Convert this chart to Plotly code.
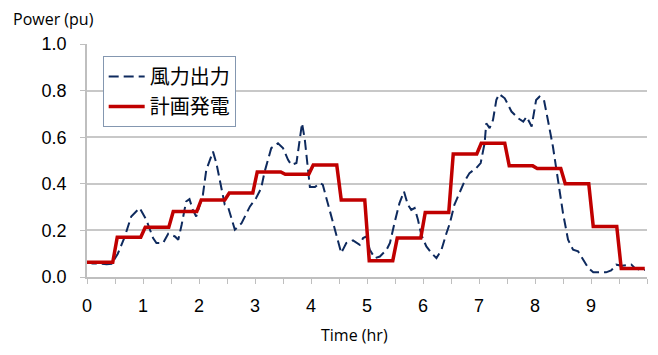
import plotly.graph_objects as go

# Wind power output (dashed, navy)
wind_time = [0.0, 0.1, 0.2, 0.35, 0.44, 0.55, 0.67, 0.79, 0.94, 1.06, 1.18, 1.24, 1.36, 1.45,
             1.57, 1.63, 1.69, 1.77, 1.83, 1.89, 1.95, 2.07, 2.13, 2.25, 2.31, 2.40, 2.46, 2.52,
             2.64, 2.76, 2.91, 3.02, 3.11, 3.17, 3.23, 3.29, 3.41, 3.50, 3.59, 3.65, 3.74, 3.78,
             3.84, 3.89, 3.94, 3.98, 4.07, 4.16, 4.21, 4.30, 4.39, 4.45, 4.54, 4.63, 4.75, 4.87,
             4.93, 4.99, 5.05, 5.14, 5.23, 5.35, 5.41, 5.49, 5.58, 5.66, 5.73, 5.79, 5.85, 5.91,
             5.97, 6.06, 6.15, 6.24, 6.33, 6.42, 6.48, 6.56, 6.65, 6.74, 6.83, 6.95, 7.03, 7.10,
             7.13, 7.19, 7.25, 7.31, 7.36, 7.46, 7.58, 7.70, 7.79, 7.85, 7.94, 8.02, 8.08, 8.16,
             8.23, 8.32, 8.41, 8.50, 8.59, 8.68, 8.77, 8.86, 8.95, 9.04, 9.16, 9.27, 9.36, 9.45,
             9.55, 9.65, 9.72, 9.78, 9.90, 9.96]
wind_power = [0.065, 0.058, 0.058, 0.055, 0.057, 0.10, 0.17, 0.26, 0.296, 0.245, 0.167, 0.146, 0.146, 0.186,
              0.174, 0.16, 0.224, 0.324, 0.334, 0.288, 0.26, 0.353, 0.46, 0.538, 0.489, 0.374, 0.31, 0.30,
              0.203, 0.231, 0.303, 0.339, 0.381, 0.45, 0.503, 0.553, 0.574, 0.553, 0.503, 0.481, 0.489, 0.55,
              0.66, 0.589, 0.46, 0.386, 0.386, 0.403, 0.396, 0.317, 0.246, 0.189, 0.103, 0.146, 0.157, 0.138,
              0.167, 0.174, 0.117, 0.081, 0.088, 0.117, 0.146, 0.231, 0.317, 0.367, 0.31, 0.288, 0.296, 0.246,
              0.181, 0.131, 0.103, 0.081, 0.117, 0.189, 0.231, 0.31, 0.36, 0.41, 0.446, 0.467, 0.489, 0.574,
              0.66, 0.639, 0.674, 0.76, 0.785, 0.767, 0.71, 0.681, 0.667, 0.688, 0.646, 0.76, 0.774, 0.76,
              0.674, 0.56, 0.417, 0.274, 0.16, 0.117, 0.11, 0.074, 0.039, 0.02, 0.02, 0.02, 0.028, 0.053,
              0.048, 0.05, 0.053, 0.039, 0.028, 0.03]

# Scheduled generation, one level per half hour
plan_levels = [0.063, 0.171, 0.213, 0.281, 0.331, 0.36, 0.451, 0.441, 0.481, 0.331,
               0.07, 0.167, 0.277, 0.528, 0.574, 0.477, 0.466, 0.40, 0.217, 0.036]
step_hours = 0.5
ramp = 0.04

plan_time, plan_power = [], []
for k, lv in enumerate(plan_levels):
    t0 = k * step_hours + (0 if k == 0 else ramp)
    t1 = (k + 1) * step_hours - ramp
    plan_time += [t0, t1]
    plan_power += [lv, lv]

x_tickvals = [0, 1, 2, 3, 4, 5, 6, 7, 8, 9]
y_tickvals = [0.0, 0.2, 0.4, 0.6, 0.8, 1.0]

fig = go.Figure()
fig.add_trace(go.Scatter(x=wind_time, y=wind_power, mode="lines", name="風力出力", legendgroup="a",
                         line=dict(color="#0E2A5E", width=2, dash="10px,5px")))
fig.add_trace(go.Scatter(x=plan_time, y=plan_power, mode="lines", name="計画発電", legendgroup="b",
                         line=dict(color="#C00000", width=3.5)))

tick_font = dict(family="Liberation Sans, Arial, sans-serif", size=18, color="#000000")
fig.update_layout(
    width=658, height=355,
    margin=dict(l=87, r=11, t=44, b=78),
    paper_bgcolor="white", plot_bgcolor="white",
    showlegend=True,
    legend=dict(x=0.028, y=0.948, xanchor="left", yanchor="top",
                bordercolor="#8497B0", borderwidth=1, bgcolor="white",
                font=dict(family="Noto Sans CJK JP", size=20, color="#000000"),
                itemwidth=36, tracegroupgap=1),
    xaxis=dict(range=[0, 10], tickvals=x_tickvals, ticktext=[str(v) for v in x_tickvals],
               showgrid=False, zeroline=False, showline=True, linecolor="#BFBFBF", linewidth=1.5,
               ticks="outside", ticklen=5, tickcolor="#BFBFBF", ticklabelstandoff=7,
               minor=dict(dtick=0.5, ticks="outside", ticklen=5, tickcolor="#BFBFBF"),
               tickfont=tick_font),
    yaxis=dict(range=[0, 1.0], tickvals=y_tickvals, ticktext=["%.1f" % v for v in y_tickvals],
               showgrid=True, gridcolor="#C8C8C8", gridwidth=1.5, zeroline=False,
               showline=True, linecolor="#BFBFBF", linewidth=1.5,
               ticks="outside", ticklen=5, tickcolor="#BFBFBF", ticklabelstandoff=10,
               tickfont=tick_font),
    annotations=[
        dict(text="Power (pu)", xref="paper", yref="paper", showarrow=False,
             font=dict(family="Open Sans", size=16, color="#000000")),
        dict(text="Time (hr)", xref="paper", yref="paper", showarrow=False,
             font=dict(family="Open Sans", size=16, color="#000000")),
    ],
)
# position the two axis-title annotations in pixel-equivalent paper coordinates
plot_w = 658 - 87 - 11
plot_h = 355 - 44 - 78
fig.layout.annotations[0].update(x=(53 - 87) / plot_w, y=(277 - 19) / plot_h, xanchor="center", yanchor="middle")
fig.layout.annotations[1].update(x=(354 - 87) / plot_w, y=(277 - 335) / plot_h, xanchor="center", yanchor="middle")

fig.write_html("out.html")
